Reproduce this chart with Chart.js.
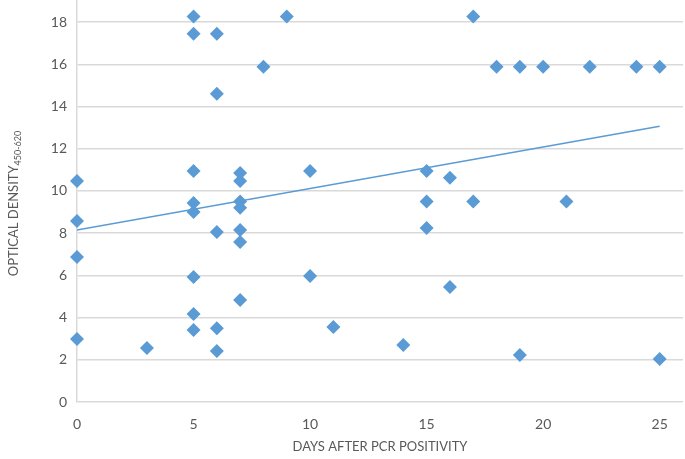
<!DOCTYPE html>
<html>
<head>
<meta charset="utf-8">
<script src="https://cdn.jsdelivr.net/npm/chart.js@4"></script>
<style>
  html, body { margin: 0; padding: 0; background: #fff; }
  #wrap { width: 685px; height: 459px; }
</style>
</head>
<body>
<div id="wrap"><canvas id="scatterChart"></canvas></div>
<script>
// days after PCR positivity / optical density
const days = [0, 0, 0, 0, 3,
  5, 5, 5, 5, 5, 5, 5, 5,
  6, 6, 6, 6, 6,
  7, 7, 7, 7, 7, 7, 7,
  8, 9, 10, 10, 11, 14,
  15, 15, 15, 16, 16, 17, 17,
  18, 19, 19, 20, 21, 22, 24, 25, 25];
const density = [10.47, 8.58, 6.87, 2.99, 2.56,
  18.26, 17.45, 10.95, 9.43, 9.0, 5.92, 4.17, 3.41,
  17.45, 14.6, 8.06, 3.5, 2.42,
  10.85, 10.47, 9.5, 9.2, 8.15, 7.58, 4.83,
  15.88, 18.26, 10.95, 5.97, 3.55, 2.7,
  10.95, 9.5, 8.25, 10.62, 5.45, 18.26, 9.5,
  15.88, 15.88, 2.23, 15.88, 9.5, 15.88, 15.88, 15.88, 2.04];
const trendDays = [0, 25];
const trendValues = [8.15, 13.07];

const blue = '#5B9BD5';
const grey = '#595959';
const gridColor = '#d9d9d9';
const fontFamily = 'Lato, "Open Sans", sans-serif';

const points = days.map((d, i) => ({ x: d, y: density[i] }));
const trend = trendDays.map((d, i) => ({ x: d, y: trendValues[i] }));

// y title with subscript
const yTitle = {
  id: 'yTitle',
  afterDraw(chart) {
    const ctx = chart.ctx;
    const area = chart.chartArea;
    const main = 'OPTICAL DENSITY';
    const sub = '450-620';
    ctx.save();
    ctx.fillStyle = grey;
    ctx.font = '13px ' + fontFamily;
    const w1 = ctx.measureText(main).width;
    ctx.font = '9px ' + fontFamily;
    const w2 = ctx.measureText(sub).width;
    const cy = (area.top + area.bottom) / 2 + 2;
    ctx.translate(14, cy);
    ctx.rotate(-Math.PI / 2);
    ctx.textBaseline = 'middle';
    ctx.textAlign = 'left';
    const start = -(w1 + w2) / 2;
    ctx.font = '13px ' + fontFamily;
    ctx.fillText(main, start, 0);
    ctx.font = '9px ' + fontFamily;
    ctx.fillText(sub, start + w1, 4);
    ctx.restore();
  }
};

new Chart(document.getElementById('scatterChart'), {
  type: 'scatter',
  data: {
    datasets: [{
      label: 'Optical density',
      data: points,
      pointStyle: 'rectRot',
      pointRadius: 7,
      pointHoverRadius: 7,
      backgroundColor: blue,
      borderColor: blue,
      borderWidth: 0,
      clip: false,
      order: 1
    }, {
      type: 'line',
      label: 'Trend',
      data: trend,
      borderColor: blue,
      borderWidth: 1.5,
      pointRadius: 0,
      fill: false,
      order: 2
    }]
  },
  options: {
    responsive: true,
    maintainAspectRatio: false,
    animation: false,
    layout: { autoPadding: false, padding: { top: 1, right: 2, left: 0, bottom: 0 } },
    plugins: {
      legend: { display: false },
      tooltip: { enabled: false }
    },
    scales: {
      x: {
        type: 'linear',
        min: 0,
        max: 26,
        ticks: {
          stepSize: 5,
          includeBounds: false,
          color: grey,
          font: { family: fontFamily, size: 14 },
          padding: 14,
          maxRotation: 0
        },
        grid: { display: false, drawTicks: false },
        border: { display: false },
        title: {
          display: true,
          text: 'DAYS AFTER PCR POSITIVITY',
          color: grey,
          font: { family: fontFamily, size: 13 },
          padding: { top: 4 }
        },
        afterFit(scale) {
          scale.height = 57;
          scale.paddingLeft = 0;
          scale.paddingRight = 0;
        }
      },
      y: {
        min: 0,
        max: 19,
        ticks: {
          stepSize: 2,
          includeBounds: false,
          color: grey,
          font: { family: fontFamily, size: 14 },
          padding: 10
        },
        grid: { color: gridColor, lineWidth: 1.5, drawTicks: false },
        border: { color: gridColor, width: 1.5 },
        afterFit(scale) {
          scale.width = 77;
          scale.paddingTop = 0;
          scale.paddingBottom = 0;
        }
      }
    }
  },
  plugins: [yTitle]
});
</script>
</body>
</html>
